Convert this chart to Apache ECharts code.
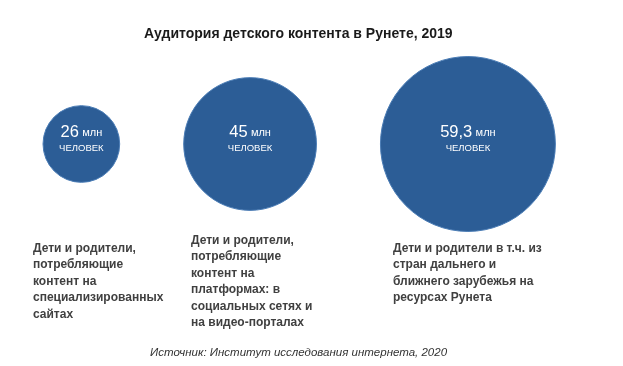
<!DOCTYPE html>
<html>
<head>
<meta charset="utf-8">
<script src="https://cdn.jsdelivr.net/npm/echarts@6/dist/echarts.min.js"></script>
<style>html,body{margin:0;padding:0;background:#fff}#c{width:623px;height:366px}</style>
</head>
<body>
<div id="c"></div>
<script>
// Data
var titleText = 'Аудитория детского контента в Рунете, 2019';
var sourceText = 'Источник: Институт исследования интернета, 2020';
var values = [26, 45, 59.3];
var valueLabels = ['26', '45', '59,3'];
var unitLabel = 'млн';
var unitSub = 'ЧЕЛОВЕК';
var categories = [
  'Дети и родители,\nпотребляющие\nконтент на\nспециализированных\nсайтах',
  'Дети и родители,\nпотребляющие\nконтент на\nплатформах: в\nсоциальных сетях и\nна видео-порталах',
  'Дети и родители в т.ч. из\nстран дальнего и\nближнего зарубежья на\nресурсах Рунета'
];

// Layout: circles placed side by side, diameter proportional to value
var K = 2.95, START = 43, GAP = 64;
var pts = [];
var edge = START;
for (var i = 0; i < values.length; i++) {
  var d = values[i] * K;
  pts.push({ value: [edge + d / 2, 0, values[i]] });
  edge += d + GAP;
}

var font = '"Liberation Sans", Arial, sans-serif';
var chart = echarts.init(document.getElementById('c'));
var labelX = [33, 191, 393];
var labelY = [240, 232, 240];
var graphics = categories.map(function (t, i) {
  return {
    type: 'text', left: labelX[i], top: labelY[i],
    style: { text: t, font: 'bold 12px ' + font, fill: '#404040', lineHeight: 16.5 }
  };
});

chart.setOption({
  animation: false,
  title: [
    { text: titleText, left: 139, top: 22,
      textStyle: { fontFamily: font, fontSize: 14, fontWeight: 'bold', color: '#1a1a1a' } },
    { text: sourceText, left: 145, top: 342,
      textStyle: { fontFamily: font, fontSize: 11.5, fontStyle: 'italic', fontWeight: 'normal', color: '#333' } }
  ],
  grid: { left: 0, right: 0, top: 44, bottom: 122 },
  xAxis: { type: 'value', min: 0, max: 623, show: false },
  yAxis: { type: 'category', data: [''], show: false },
  series: [{
    type: 'scatter',
    symbol: 'circle',
    symbolSize: function (v) { return v[2] * K; },
    itemStyle: { color: '#2c5d96', opacity: 1, borderColor: '#4a7cb5', borderWidth: 1 },
    data: pts,
    label: {
      show: true, position: 'inside', offset: [0, -5],
      formatter: function (p) { return '{a|' + valueLabels[p.dataIndex] + '} {b|' + unitLabel + '}\n{c|' + unitSub + '}'; },
      rich: {
        a: { fontFamily: font, fontSize: 16.5, color: '#fff', lineHeight: 18 },
        b: { fontFamily: font, fontSize: 11, color: '#fff', lineHeight: 18 },
        c: { fontFamily: font, fontSize: 9.5, color: '#fff', lineHeight: 13, align: 'center' }
      }
    }
  }],
  graphic: graphics
});
</script>
</body>
</html>
